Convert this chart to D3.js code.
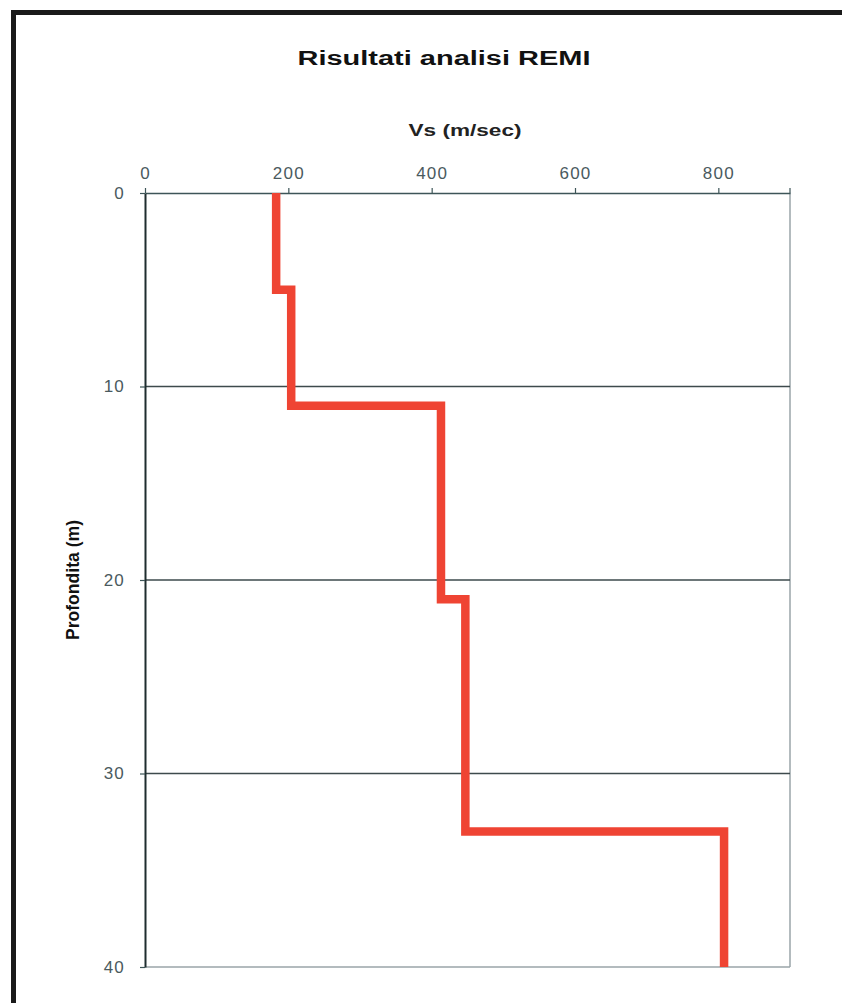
<!DOCTYPE html>
<html>
<head>
<meta charset="utf-8">
<script src="https://cdn.jsdelivr.net/npm/d3@7"></script>
<style>
  html, body { margin: 0; padding: 0; background: #fff; }
  svg { display: block; }
</style>
</head>
<body>
<svg id="chart" width="842" height="1003"></svg>
<script>
// Data
const layerTops = [0, 5, 11, 21, 33];
const layerBottoms = [5, 11, 21, 33, 40];
const vsValues = [183, 204, 413, 447, 808];
const xTicks = [0, 200, 400, 600, 800];
const yTicks = [0, 10, 20, 30, 40];
const chartTitle = "Risultati analisi REMI";
const xTitle = "Vs (m/sec)";
const yTitle = "Profondita (m)";

const svg = d3.select("#chart");
const W = 842, H = 1003;
const plot = { left: 145, right: 790, top: 193, bottom: 967 };

svg.append("rect").attr("width", W).attr("height", H).attr("fill", "#fff");

// outer frame (black bands at top and left)
svg.append("rect").attr("x", 11).attr("y", 10).attr("width", W - 11).attr("height", 5).attr("fill", "#1a1a1a");
svg.append("rect").attr("x", 11).attr("y", 10).attr("width", 5).attr("height", H - 10).attr("fill", "#1a1a1a");

const x = d3.scaleLinear().domain([0, 900]).range([plot.left, plot.right]);
const y = d3.scaleLinear().domain([0, 40]).range([plot.top, plot.bottom]);

// plot border (right, bottom grey)
svg.append("line").attr("x1", plot.right).attr("x2", plot.right).attr("y1", plot.top).attr("y2", plot.bottom)
  .attr("stroke", "#9aa4a8").attr("stroke-width", 1.5);
svg.append("line").attr("x1", plot.left).attr("x2", plot.right).attr("y1", plot.bottom).attr("y2", plot.bottom)
  .attr("stroke", "#9aa4a8").attr("stroke-width", 1.5);

// horizontal gridlines
svg.append("g").selectAll("line").data(yTicks.filter(d => d > 0 && d < 40)).join("line")
  .attr("x1", plot.left).attr("x2", plot.right)
  .attr("y1", d => y(d)).attr("y2", d => y(d))
  .attr("stroke", "#3d4a4c").attr("stroke-width", 1.3);

const tickFont = "Liberation Sans, Arial, sans-serif";

// top x axis
const xAxis = d3.axisTop(x).tickValues(xTicks).tickSize(5).tickPadding(9).tickSizeOuter(0);
const gx = svg.append("g").attr("transform", `translate(0,${plot.top})`).call(xAxis);
gx.select(".domain").attr("stroke", "#3d5558").attr("stroke-width", 1.5);
gx.selectAll(".tick line").attr("stroke", "#3d5558").attr("stroke-width", 1.2);
gx.selectAll(".tick text").attr("font-family", tickFont)
  .attr("font-size", 17).attr("fill", "#4a5a5e").attr("letter-spacing", 1.2);
// right end small tick
svg.append("line").attr("x1", plot.right).attr("x2", plot.right).attr("y1", plot.top - 5).attr("y2", plot.top)
  .attr("stroke", "#3d5558").attr("stroke-width", 1.2);

// left y axis
const yAxis = d3.axisLeft(y).tickValues(yTicks).tickSize(5).tickPadding(15).tickSizeOuter(0);
const gy = svg.append("g").attr("transform", `translate(${plot.left},0)`).call(yAxis);
gy.select(".domain").attr("stroke", "#1f2d2f").attr("stroke-width", 2);
gy.selectAll(".tick line").attr("stroke", "#3d5558").attr("stroke-width", 1.2);
gy.selectAll(".tick text").attr("font-family", tickFont)
  .attr("font-size", 17).attr("fill", "#4a5a5e").attr("letter-spacing", 1.2);

// step profile
const pts = [];
vsValues.forEach((v, i) => { pts.push([v, layerTops[i]]); pts.push([v, layerBottoms[i]]); });
const line = d3.line().x(d => x(d[0])).y(d => y(d[1]));
svg.append("path").datum(pts).attr("d", line)
  .attr("fill", "none").attr("stroke", "#ef4433").attr("stroke-width", 8.5)
  .attr("stroke-linejoin", "miter");

// titles
svg.append("text").attr("x", 444).attr("y", 65).attr("text-anchor", "middle")
  .attr("font-family", "Liberation Sans, Arial, sans-serif").attr("font-weight", "bold")
  .attr("font-size", 20).attr("fill", "#111").attr("textLength", 293).attr("lengthAdjust", "spacingAndGlyphs")
  .text(chartTitle);
svg.append("text").attr("x", 465).attr("y", 136).attr("text-anchor", "middle")
  .attr("font-family", "Liberation Sans, Arial, sans-serif").attr("font-weight", "bold")
  .attr("font-size", 16.5).attr("fill", "#222").attr("textLength", 113).attr("lengthAdjust", "spacingAndGlyphs")
  .text(xTitle);
svg.append("text").attr("transform", "translate(79,580) rotate(-90)").attr("text-anchor", "middle")
  .attr("font-family", "Liberation Sans Narrow, Arial Narrow, Liberation Sans, sans-serif").attr("font-weight", "bold")
  .attr("font-size", 19).attr("fill", "#111").attr("textLength", 120).attr("lengthAdjust", "spacingAndGlyphs")
  .text(yTitle);
</script>
</body>
</html>
